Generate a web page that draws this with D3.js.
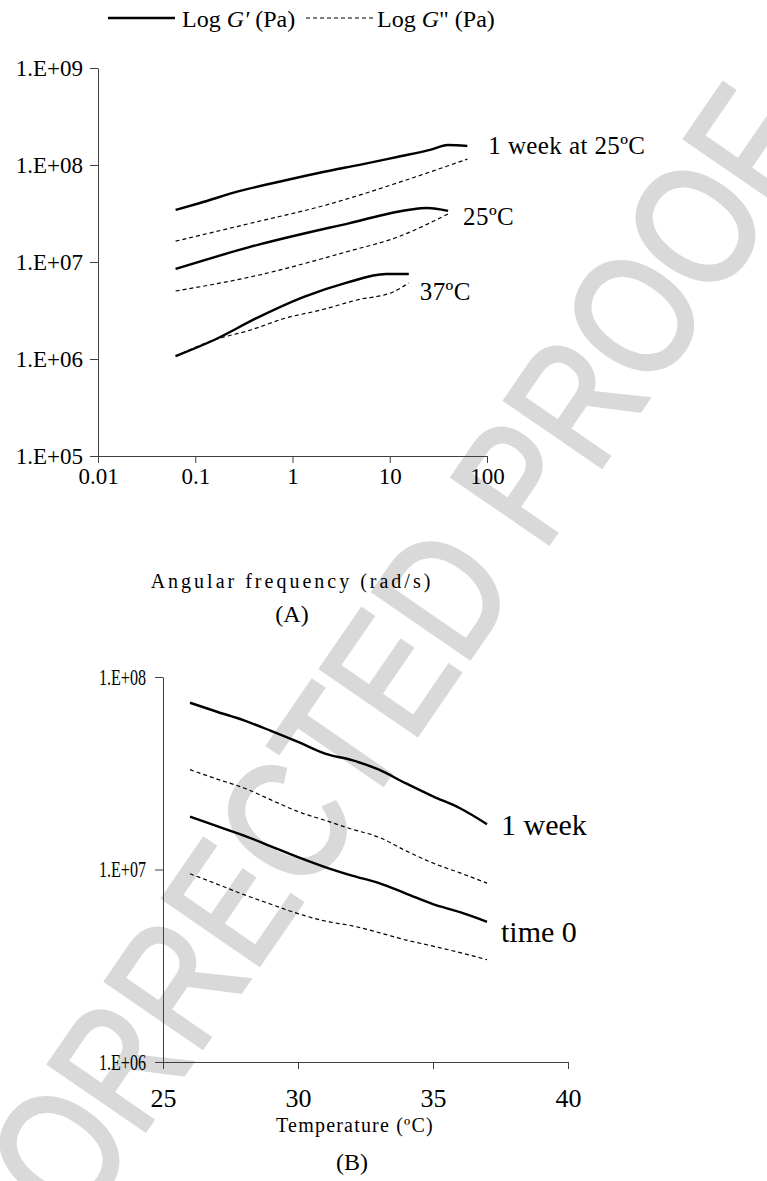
<!DOCTYPE html>
<html>
<head>
<meta charset="utf-8">
<script src="https://cdn.jsdelivr.net/npm/d3@7"></script>
<style>
  body { margin: 0; background: #fff; }
  svg { display: block; font-family: "Liberation Serif", "Times New Roman", serif; }
</style>
</head>
<body>
<svg id="fig" width="767" height="1181"></svg>
<script>
// ---------- Panel A: frequency sweeps (rad/s vs Pa) ----------
const freqTicks = [0.01, 0.1, 1, 10, 100];
const modTicksA = [1e5, 1e6, 1e7, 1e8, 1e9];

const weekGpFreq  = [0.0628, 0.112, 0.288, 0.79, 2.06, 5.32, 11.9, 25.9, 39.6, 62.8];
const weekGp      = [3.44e7, 4.06e7, 5.40e7, 6.84e7, 8.47e7, 1.02e8, 1.21e8, 1.43e8, 1.61e8, 1.57e8];
const weekGppFreq = [0.0628, 0.366, 2.43, 11.9, 62.8];
const weekGpp     = [1.64e7, 2.5e7, 3.97e7, 6.52e7, 1.15e8];

const t25GpFreq   = [0.0628, 0.366, 3.88, 15.4, 24.4, 39.8];
const t25Gp       = [8.47e6, 1.43e7, 2.52e7, 3.44e7, 3.6e7, 3.36e7];
const t25GppFreq  = [0.0628, 0.366, 3.88, 11.9, 39.8];
const t25Gpp      = [5.02e6, 7.0e6, 1.30e7, 1.8e7, 3.13e7];

const t37GpFreq   = [0.0628, 0.156, 0.432, 1.31, 3.55, 9.15, 15.7];
const t37Gp       = [1.07e6, 1.57e6, 2.65e6, 4.36e6, 6.08e6, 7.52e6, 7.52e6];
const t37GppFreq  = [0.0628, 0.156, 0.371, 0.857, 1.96, 4.6, 10.8, 15.7];
const t37Gpp      = [1.07e6, 1.57e6, 1.99e6, 2.65e6, 3.2e6, 4.06e6, 4.91e6, 6.08e6];

const sweepLabels = ["1 week at 25ºC", "25ºC", "37ºC"];

// ---------- Panel B: temperature sweeps (ºC vs Pa) ----------
const tempTicks = [25, 30, 35, 40];
const modTicksB = [1e6, 1e7, 1e8];
const temps     = [26, 27, 28, 29, 30, 31, 32, 33, 34, 35, 36, 37];
const weekTGp   = [7.35e7, 6.6e7, 5.95e7, 5.25e7, 4.6e7, 4.0e7, 3.7e7, 3.3e7, 2.8e7, 2.4e7, 2.08e7, 1.72e7];
const weekTGpp  = [3.3e7, 2.95e7, 2.65e7, 2.3e7, 2.0e7, 1.8e7, 1.62e7, 1.47e7, 1.25e7, 1.08e7, 9.6e6, 8.5e6];
const zeroTGp   = [1.88e7, 1.68e7, 1.5e7, 1.32e7, 1.16e7, 1.03e7, 9.3e6, 8.5e6, 7.5e6, 6.6e6, 6.0e6, 5.35e6];
const zeroTGpp  = [9.5e6, 8.4e6, 7.4e6, 6.6e6, 5.9e6, 5.4e6, 5.1e6, 4.7e6, 4.3e6, 4.0e6, 3.7e6, 3.4e6];
const tempLabels = ["1 week", "time 0"];

const svg = d3.select("#fig");

// Light diagonal stamp behind the figure (narrowed sans letters)
svg.append("text")
  .attr("transform", "translate(373,695) rotate(-55.5) scale(0.82,1)")
  .attr("text-anchor", "middle")
  .attr("dominant-baseline", "central")
  .style("font-family", "'Liberation Sans', Arial, sans-serif")
  .style("font-size", "170px")
  .attr("fill", "#d9d9d9")
  .attr("stroke", "#d9d9d9")
  .attr("stroke-width", 4)
  .text("CORRECTED PROOF");

const expFmt = d => "1.E+" + String(Math.round(Math.log10(d))).padStart(2, "0");

function styleAxis(g, size) {
  g.attr("font-family", null).attr("font-size", null);
  g.select(".domain").attr("stroke", "#404040").attr("stroke-width", 1);
  g.selectAll(".tick line").attr("stroke", "#404040").attr("stroke-width", 1);
  g.selectAll(".tick text").attr("fill", "#000").style("font-size", size + "px");
}

const solid  = { stroke: "#000", width: 2.4, dash: null };
const dashed = { stroke: "#000", width: 1.2, dash: "4,3" };

function drawLine(g, xs, ys, xScale, yScale, st) {
  const pts = xs.map((x, i) => [x, ys[i]]);
  g.append("path")
    .datum(pts)
    .attr("fill", "none")
    .attr("stroke", st.stroke)
    .attr("stroke-width", st.width)
    .attr("stroke-dasharray", st.dash)
    .attr("stroke-linejoin", "round")
    .attr("d", d3.line()
      .x(d => xScale(d[0]))
      .y(d => yScale(d[1]))
      .curve(d3.curveMonotoneX));
}

// ---------- Legend ----------
const leg = svg.append("g").style("font-size", "24px");
leg.append("line").attr("x1", 108).attr("x2", 175).attr("y1", 18).attr("y2", 18)
  .attr("stroke", "#000").attr("stroke-width", 2.4);
const l1 = leg.append("text").attr("x", 182).attr("y", 27);
l1.append("tspan").text("Log ");
l1.append("tspan").style("font-style", "italic").text("G′");
l1.append("tspan").text(" (Pa)");
leg.append("line").attr("x1", 306).attr("x2", 374).attr("y1", 18).attr("y2", 18)
  .attr("stroke", "#000").attr("stroke-width", 1.2).attr("stroke-dasharray", "4,3");
const l2 = leg.append("text").attr("x", 377).attr("y", 27);
l2.append("tspan").text("Log ");
l2.append("tspan").style("font-style", "italic").text("G");
l2.append("tspan").text("\" (Pa)");

// ---------- Panel A ----------
const xA = d3.scaleLog().domain([0.01, 100]).range([98, 487]);
const yA = d3.scaleLog().domain([1e5, 1e9]).range([456, 68]);

const gA = svg.append("g");
gA.append("g").attr("transform", "translate(0,456)")
  .call(d3.axisBottom(xA).tickValues(freqTicks).tickFormat(d => String(d))
    .tickSizeInner(7).tickSizeOuter(0).tickPadding(5))
  .call(g => styleAxis(g, 23));
gA.append("g").attr("transform", "translate(98,0)")
  .call(d3.axisLeft(yA).tickValues(modTicksA).tickFormat(expFmt)
    .tickSizeInner(8).tickSizeOuter(0).tickPadding(7))
  .call(g => styleAxis(g, 23));

drawLine(gA, weekGppFreq, weekGpp, xA, yA, dashed);
drawLine(gA, t25GppFreq, t25Gpp, xA, yA, dashed);
drawLine(gA, t37GppFreq, t37Gpp, xA, yA, dashed);
drawLine(gA, weekGpFreq, weekGp, xA, yA, solid);
drawLine(gA, t25GpFreq, t25Gp, xA, yA, solid);
drawLine(gA, t37GpFreq, t37Gp, xA, yA, solid);

// labels sit just right of the last G' point of each sweep
const sweepEnds = [
  [weekGpFreq[weekGpFreq.length - 1], weekGp[weekGp.length - 1]],
  [t25GpFreq[t25GpFreq.length - 1], t25Gp[t25Gp.length - 1]],
  [t37GpFreq[t37GpFreq.length - 1], t37Gp[t37Gp.length - 1]]
];
const sweepDx = [21, 15, 11], sweepDy = [8, 14, 26];
gA.selectAll("text.sweep")
  .data(sweepLabels)
  .join("text")
  .attr("class", "sweep")
  .attr("x", (d, i) => xA(sweepEnds[i][0]) + sweepDx[i])
  .attr("y", (d, i) => yA(sweepEnds[i][1]) + sweepDy[i])
  .style("font-size", "25px")
  .style("letter-spacing", "0.4px")
  .text(d => d);

gA.append("text").attr("x", 292).attr("y", 588).attr("text-anchor", "middle")
  .style("font-size", "20px").style("letter-spacing", "3px")
  .text("Angular frequency (rad/s)");
gA.append("text").attr("x", 292).attr("y", 622).attr("text-anchor", "middle")
  .style("font-size", "24px").text("(A)");

// ---------- Panel B ----------
const xB = d3.scaleLinear().domain([25, 40]).range([163, 568]);
const yB = d3.scaleLog().domain([1e6, 1e8]).range([1062, 677]);

const gB = svg.append("g");
gB.append("g").attr("transform", "translate(0,1062)")
  .call(d3.axisBottom(xB).tickValues(tempTicks).tickFormat(d3.format("d"))
    .tickSizeInner(7).tickSizeOuter(0).tickPadding(20))
  .call(g => styleAxis(g, 26));
const yAxisB = gB.append("g").attr("transform", "translate(163,0)")
  .call(d3.axisLeft(yB).tickValues(modTicksB).tickFormat(expFmt)
    .tickSizeInner(8).tickSizeOuter(0).tickPadding(0))
  .call(g => styleAxis(g, 23));
// narrow lettering for the panel B modulus labels
yAxisB.selectAll(".tick text")
  .attr("x", null)
  .attr("transform", "translate(-17,0) scale(0.7,1)");

drawLine(gB, temps, weekTGpp, xB, yB, dashed);
drawLine(gB, temps, zeroTGpp, xB, yB, dashed);
drawLine(gB, temps, weekTGp, xB, yB, solid);
drawLine(gB, temps, zeroTGp, xB, yB, solid);

const tempEnds = [weekTGp[weekTGp.length - 1], zeroTGp[zeroTGp.length - 1]];
gB.selectAll("text.tlab")
  .data(tempLabels)
  .join("text")
  .attr("class", "tlab")
  .attr("x", xB(temps[temps.length - 1]) + 14)
  .attr("y", (d, i) => yB(tempEnds[i]) + [11, 20][i])
  .style("font-size", "30px")
  .text(d => d);

gB.append("text").attr("x", 355).attr("y", 1132).attr("text-anchor", "middle")
  .style("font-size", "20px").style("letter-spacing", "1.2px")
  .text("Temperature (ºC)");
gB.append("text").attr("x", 352).attr("y", 1170).attr("text-anchor", "middle")
  .style("font-size", "24px").text("(B)");
</script>
</body>
</html>
